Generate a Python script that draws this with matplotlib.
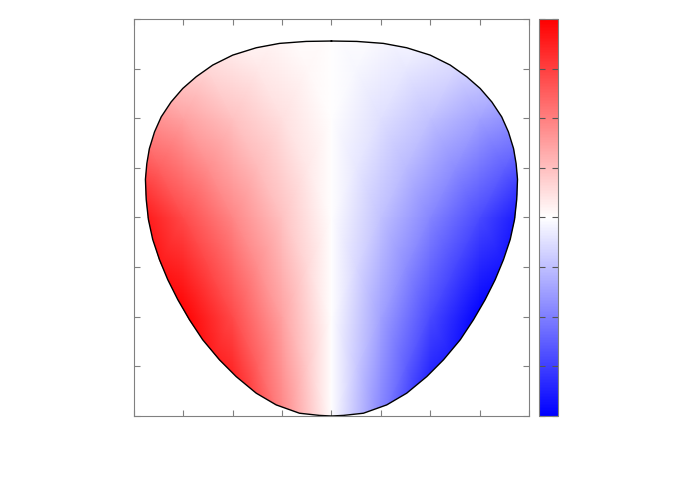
import numpy as np
import matplotlib
matplotlib.use("Agg")
import matplotlib.pyplot as plt
from matplotlib.patches import Polygon

# outline of the left half of the body (x, y); right half is its mirror
outline_x = [0.0, -0.128, -0.263, -0.381, -0.500, -0.601, -0.685, -0.753, -0.812, -0.862,
             -0.896, -0.922, -0.935, -0.942, -0.938, -0.927, -0.905, -0.871, -0.829, -0.778,
             -0.719, -0.652, -0.567, -0.483, -0.381, -0.280, -0.162, -0.061, 0.0]
outline_y = [0.889, 0.887, 0.877, 0.855, 0.818, 0.768, 0.709, 0.650, 0.582, 0.507,
             0.431, 0.347, 0.271, 0.192, 0.091, -0.010, -0.111, -0.212, -0.313, -0.414,
             -0.515, -0.616, -0.717, -0.801, -0.885, -0.944, -0.986, -0.997, -1.0]

# coarse field estimate (positive = red, negative = blue)
grid_x = [-1.0, -0.75, -0.5, -0.25, 0.0, 0.25, 0.5, 0.75, 1.0]
grid_y = [-1.0, -0.5, 0.0, 0.5, 1.0]
field = [
    [1.90, 1.42, 0.95, 0.47, 0.0, -0.47, -0.95, -1.42, -1.90],
    [1.42, 1.07, 0.71, 0.36, 0.0, -0.36, -0.71, -1.07, -1.42],
    [0.95, 0.71, 0.47, 0.24, 0.0, -0.24, -0.47, -0.71, -0.95],
    [0.47, 0.36, 0.24, 0.12, 0.0, -0.12, -0.24, -0.36, -0.47],
    [0.00, 0.00, 0.00, 0.00, 0.0, 0.00, 0.00, 0.00, 0.00],
]

ticks = np.linspace(-1, 1, 9)
edge = '#808080'

fig = plt.figure(figsize=(6.92, 4.85), dpi=100)
ax = fig.add_axes([0.1936, 0.1402, 0.5708, 0.8186])
cax = fig.add_axes([0.7789, 0.1402, 0.0275, 0.8186])

# close the outline: left half down, right half back up
ox = np.concatenate([outline_x, -np.array(outline_x[::-1])])
oy = np.concatenate([outline_y, outline_y[::-1]])

mesh = ax.pcolormesh(grid_x, grid_y, field, cmap='bwr', vmin=-1, vmax=1, shading='gouraud')
body = Polygon(np.column_stack([ox, oy]), closed=True, facecolor='none', edgecolor='none')
ax.add_patch(body)
mesh.set_clip_path(body)
ax.plot(ox, oy, color='black', lw=1.0, solid_joinstyle='round')

ax.set_xlim(-1, 1)
ax.set_ylim(-1, 1)
ax.set_xticks(ticks)
ax.set_yticks(ticks)
ax.set_xticklabels([])
ax.set_yticklabels([])
ax.tick_params(direction='in', top=True, right=True, length=4, color=edge)
for s in ax.spines.values():
    s.set_color(edge)

cb = fig.colorbar(mesh, cax=cax, ticks=ticks)
cb.ax.set_yticklabels([])
cb.ax.tick_params(direction='in', left=True, right=True, length=4, color='#555555')
cb.outline.set_edgecolor(edge)

fig.savefig('out.png', dpi=100)
